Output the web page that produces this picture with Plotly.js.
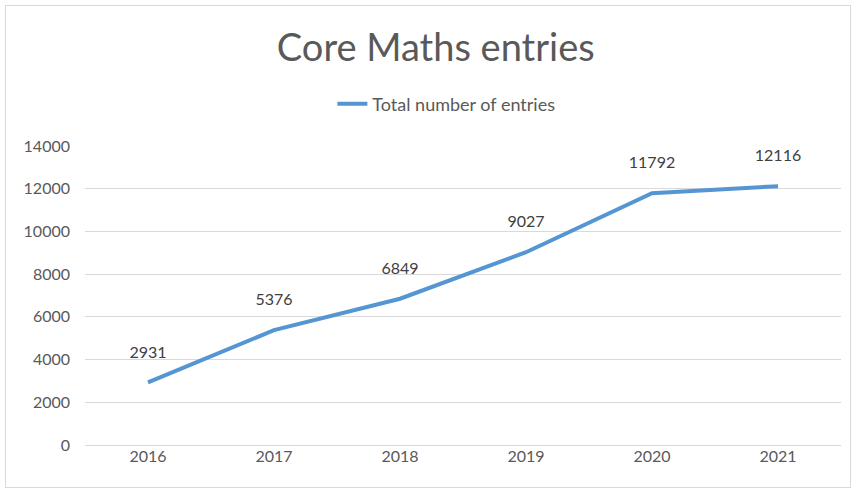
<!DOCTYPE html>
<html>
<head>
<meta charset="utf-8">
<script src="https://cdn.plot.ly/plotly-3.0.1.min.js"></script>
<style>
html,body{margin:0;padding:0;background:#fff;}
#frame{position:absolute;left:5px;top:5px;width:844px;height:481px;border:1px solid #d9d9d9;}
#chart{position:absolute;left:0;top:0;width:856px;height:491px;}
</style>
</head>
<body>
<div id="frame"></div>
<div id="chart"></div>
<script>
const years = ['2016','2017','2018','2019','2020','2021'];
const entries = [2931, 5376, 6849, 9027, 11792, 12116];
const seriesName = 'Total number of entries';
const chartTitle = 'Core Maths entries';
const yTicks = [0,2000,4000,6000,8000,10000,12000,14000];

const font = 'Lato, "Open Sans", "Liberation Sans", sans-serif';

Plotly.newPlot('chart', [{
  x: years, y: entries, type:'scatter', mode:'lines', name: seriesName,
  line:{color:'#5596d2', width:4}
},{
  x: years, y: entries, type:'scatter', mode:'text', showlegend:false,
  text: entries.map(v => String(v) + '<br>&nbsp;'),
  textposition:'top center',
  textfont:{family:font, size:16, color:'#404040'},
  hoverinfo:'skip'
}], {
  width:856, height:491,
  margin:{l:85, r:15, t:146, b:46},
  paper_bgcolor:'rgba(0,0,0,0)', plot_bgcolor:'rgba(0,0,0,0)',
  title:{text: chartTitle, x:0.464, xref:'paper', xanchor:'center', y:0.903, yanchor:'middle',
         font:{family:font, size:38, color:'#595959'}},
  showlegend:true,
  legend:{orientation:'h', x:0.478, xanchor:'center', y:1.14, yanchor:'middle',
          font:{family:font, size:18, color:'#595959'}, bgcolor:'rgba(0,0,0,0)'},
  xaxis:{type:'category', range:[-0.5,5.5], showgrid:false, zeroline:false, showline:false,
         ticks:'', tickfont:{family:font, size:16, color:'#595959'}, fixedrange:true},
  yaxis:{range:[0,14000], tickvals:yTicks, ticktext:yTicks.map(String),
         showgrid:true, gridcolor:'#d9d9d9', gridwidth:1, zeroline:true, zerolinecolor:'#d9d9d9',
         showline:false, ticks:'', ticklabelstandoff:14,
         tickfont:{family:font, size:16, color:'#595959'}, fixedrange:true}
}, {displayModeBar:false});
</script>
</body>
</html>
